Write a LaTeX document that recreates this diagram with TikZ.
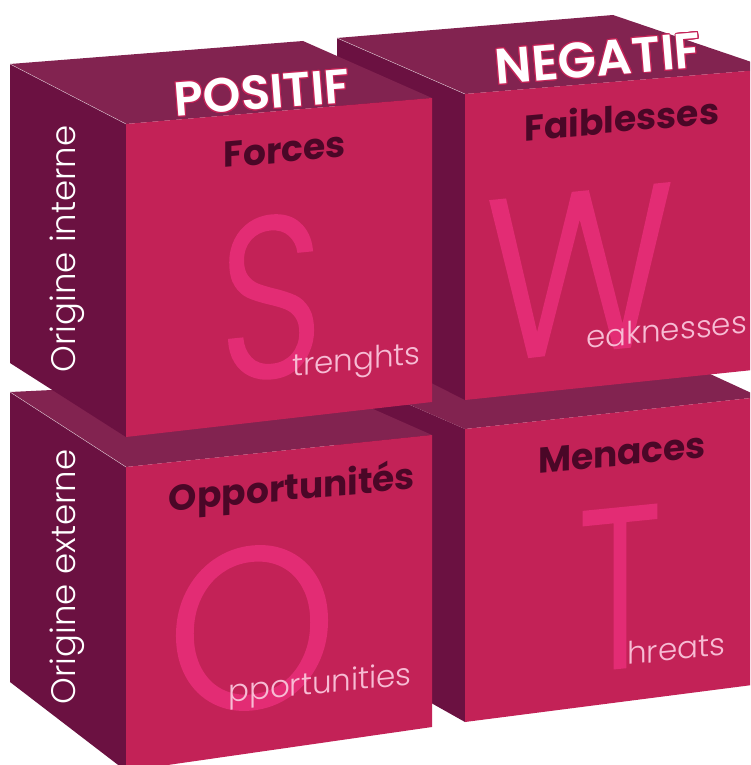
\documentclass[tikz,border=0pt]{standalone}
\usepackage{fontspec}
\setmainfont{Poppins}
\newfontfamily\thinfont{Poppins Light}
\newfontfamily\letterfont{Poppins Light}[FakeBold=1]
\newfontfamily\semifont{Poppins SemiBold}
\usepackage[copies]{contour}
\contourlength{.9pt}
\contournumber{16}
\usetikzlibrary{positioning}
\definecolor{facered}{RGB}{195,34,87}
\definecolor{faceside}{RGB}{107,17,65}
\definecolor{facetop}{RGB}{130,35,80}
\definecolor{bigpink}{RGB}{227,44,116}
\definecolor{titledark}{RGB}{74,7,39}
\definecolor{subpink}{RGB}{247,188,212}

\begin{document}
\begin{tikzpicture}[x=1pt,y=-1pt,
  front/.style={fill=facered},
  top/.style={fill=facetop},
  side/.style={fill=faceside},
  edge/.style={draw=white,opacity=.7,line width=.4pt},
  title/.style={font=\bfseries\fontsize{36}{36}\selectfont,text=titledark,yslant=.09},
  letter/.style={font=\letterfont\fontsize{228}{228}\selectfont,text=bigpink,yslant=.1,inner sep=0pt},
  sub/.style={font=\thinfont\fontsize{31}{31}\selectfont,text=subpink,yslant=.1,inner sep=0pt,anchor=base west},
  head/.style={font=\semifont\fontsize{48}{48}\selectfont,text=white,rotate=4.5},
  origin/.style={font=\thinfont\fontsize{34}{34}\selectfont,text=white,rotate=90}]

\useasboundingbox (0,0) rectangle (750,765);
\clip (0,0) rectangle (750,765);

% T
\fill[side] (337,373) -- (465,429) -- (465,722) -- (337,650) -- cycle;
\fill[top] (337,373) -- (632,338) -- (760,397) -- (465,429) -- cycle;
\fill[front] (465,429) -- (760,397) -- (760,684) -- (465,722) -- cycle;
% W
\fill[side] (337,38) -- (465,94) -- (465,400) -- (337,335) -- cycle;
\fill[top] (337,38) -- (613,15) -- (772,69) -- (465,94) -- cycle;
\fill[front] (465,94) -- (772,69) -- (772,368) -- (465,400) -- cycle;
\draw[edge] (337,38) -- (465,94);
% O
\fill[side] (10,392) -- (126,467) -- (126,771) -- (10,682) -- cycle;
\fill[top] (10,392) -- (303,378) -- (432,435) -- (126,467) -- cycle;
\fill[front] (126,467) -- (432,435) -- (432,727) -- (126,771) -- cycle;
\draw[edge] (10,392) -- (126,467);
% S
\fill[side] (10,64) -- (126,124) -- (126,437) -- (10,363) -- cycle;
\fill[top] (10,64) -- (303,41) -- (432,98) -- (126,124) -- cycle;
\fill[front] (126,124) -- (432,98) -- (432,402) -- (126,437) -- cycle;
\draw[edge] (10,64) -- (126,124);

\node[head] (pos) at (262,93) {\contour{facered}{POSITIF}};
\node[head,rotate=.3,scale=1.04] (neg) at (598,59) {\contour{facered}{NEGATIF}};

\node[origin] (int) at (67,249) {Origine interne};
\node[origin] (ext) at (67,577) {Origine externe};

\node[letter,xscale=.8] (s) at (271,297) {S};
\node[letter,xscale=.87] (w) at (580,272) {W};
\node[letter,xscale=.95] (o) at (252,628) {O};
\node[letter,xscale=.7] (t) at (620,588) {T};

\node[title] (forces) at (285,150) {Forces};
\node[title] (faibl) at (622,118) {Faiblesses};
\node[title] (opport) at (292,490) {Opportunités};
\node[title] (menac) at (622,453) {Menaces};

\node[sub] (strength) at (292,377) {trenghts};
\node[sub] (weak) at (586,349) {eaknesses};
\node[sub] (opp) at (228,703) {pportunities};
\node[sub] (threat) at (627,665) {hreats};
\end{tikzpicture}
\end{document}
